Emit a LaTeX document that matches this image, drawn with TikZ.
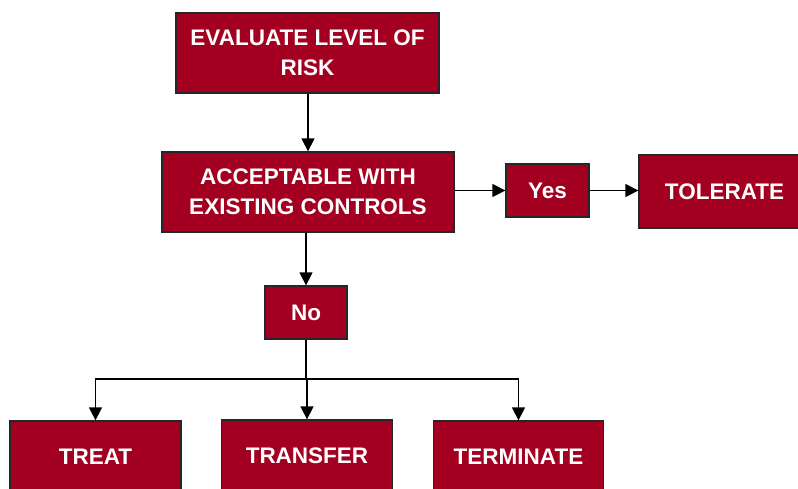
\documentclass[tikz,border=0pt]{standalone}
\usepackage{fontspec}
\setmainfont{Liberation Sans}
\usetikzlibrary{arrows.meta}
\definecolor{boxred}{RGB}{163,0,33}
\tikzset{
  box/.style={draw=black!85, line width=1.3pt, fill=boxred, text=white, align=center,
    inner sep=0pt, font=\fontsize{22.5}{30}\selectfont\bfseries},
  conn/.style={line width=1.4pt, -{Triangle[length=13pt,width=13pt]}},
  plain/.style={line width=1.4pt}
}
\begin{document}
\begin{tikzpicture}[x=1pt,y=-1pt]
\useasboundingbox (0,0) rectangle (798,488);
\fill[white] (0,0) rectangle (798,488);
\begin{scope}
\clip (0,0) rectangle (798,488);
\node[box, minimum width=263pt, minimum height=80pt] (eval) at (307.5,53) {EVALUATE LEVEL OF\\RISK};
\node[box, minimum width=292pt, minimum height=80pt] (acc) at (308,192) {ACCEPTABLE WITH\\EXISTING CONTROLS};
\node[box, minimum width=83pt, minimum height=53pt] (yes) at (547.5,190.5) {Yes};
\node[box, minimum width=171pt, minimum height=73pt] (tol) at (724.5,191.5) {TOLERATE};
\node[box, minimum width=82pt, minimum height=53pt] (no) at (306,312.5) {No};
\node[box, minimum width=171pt, minimum height=72pt] (treat) at (95.5,457) {TREAT};
\node[box, minimum width=171pt, minimum height=72pt] (transfer) at (307,456) {TRANSFER};
\node[box, minimum width=170pt, minimum height=72pt] (term) at (518.5,457) {TERMINATE};
\end{scope}
\coordinate (split) at (307,379);
\draw[conn] (eval.south -| acc.north) -- (acc.north);
\draw[conn] (acc.east |- yes.west) -- (yes.west);
\draw[conn] (yes.east) -- (yes.east -| tol.west);
\draw[conn] (acc.south -| no.north) -- (no.north);
\draw[plain] (no.south) -- (no.south |- split);
\draw[conn] (split) -- (split |- transfer.north);
\draw[conn] (split) -| (treat.north);
\draw[conn] (split) -| (term.north);
\end{tikzpicture}
\end{document}
